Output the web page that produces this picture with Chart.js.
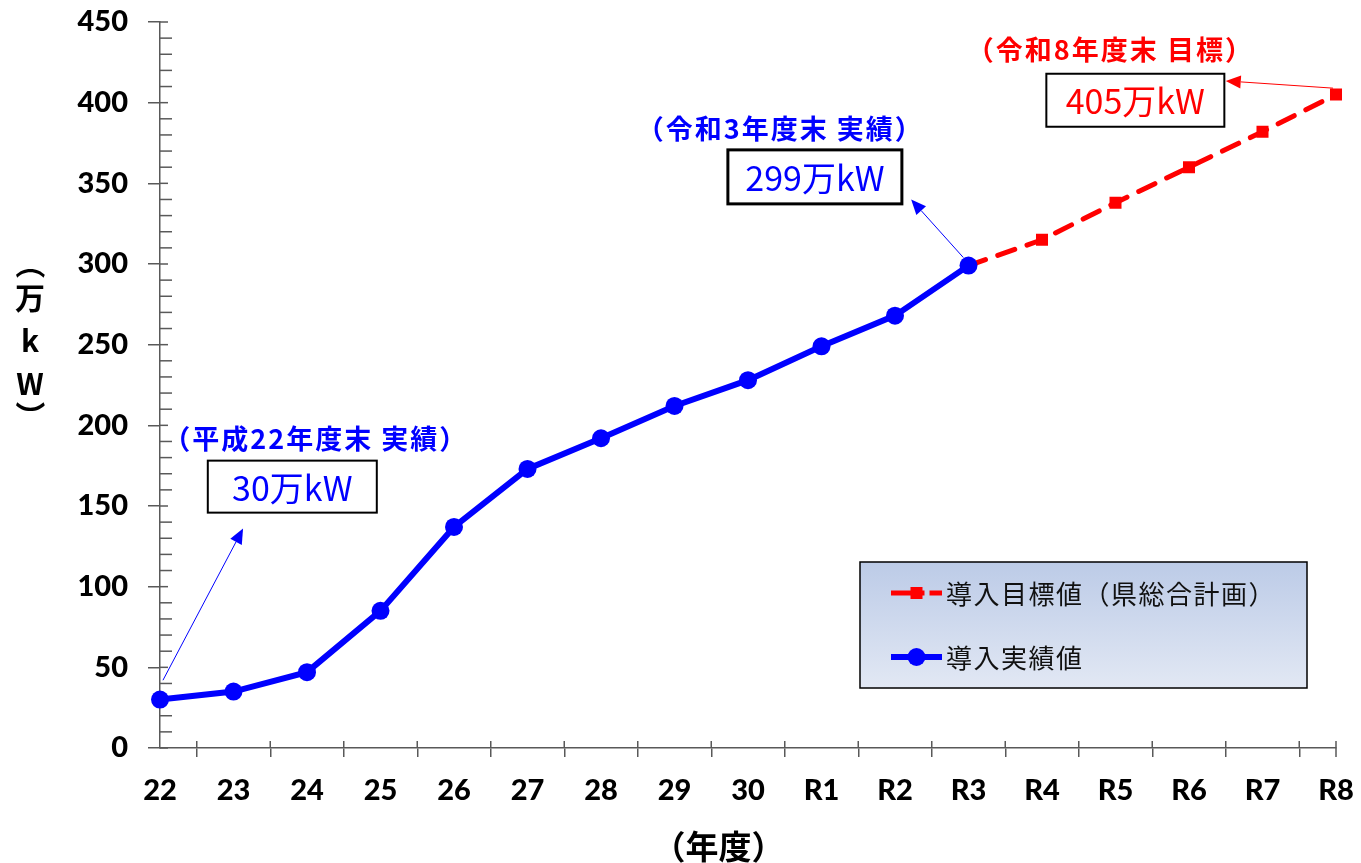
<!DOCTYPE html>
<html lang="ja">
<head>
<meta charset="utf-8">
<script src="https://cdn.jsdelivr.net/npm/chart.js@4.4.1/dist/chart.umd.min.js"></script>
<style>
  html, body { margin: 0; padding: 0; background: #fff; }
  #wrap { width: 1361px; height: 863px; }
</style>
</head>
<body>
<div id="wrap"><canvas id="solarChart" width="1361" height="863"></canvas></div>
<script>
// data
const years = ["22", "23", "24", "25", "26", "27", "28", "29", "30", "R1", "R2", "R3", "R4", "R5", "R6", "R7", "R8"];
const actualValues = [30, 35, 47, 85, 137, 173, 192, 212, 228, 249, 268, 299, null, null, null, null, null];
const targetValues = [null, null, null, null, null, null, null, null, null, null, null, 299, 315, 338, 360, 382, 405];
const yTicks = [0, 50, 100, 150, 200, 250, 300, 350, 400, 450];
const seriesNames = ["導入目標値（県総合計画）", "導入実績値"];
const yTitleChars = ["（", "万", "k", "W", "）"];
const xTitle = "（年度）";

const BLUE = "#0000FF";
const RED = "#FF0000";
const AXIS = "#595959";
const JP = "'Noto Sans CJK JP', 'Noto Sans', sans-serif";
const NUM = "Lato, 'Noto Sans', sans-serif";

// callouts: positions in (category index, value) so they go through the scales
const callouts = [
  { title: "（平成22年度末 実績）", text: "30万kW", color: BLUE, border: 2,
    titleAt: [2.12, 192], boxAt: [1.8, 162], boxW: 169, boxH: 52,
    arrowFrom: [0.04, 42], arrowTo: [1.13, 136] },
  { title: "（令和3年度末 実績）", text: "299万kW", color: BLUE, border: 3,
    titleAt: [8.44, 384], boxAt: [8.91, 354], boxW: 174, boxH: 54,
    arrowFrom: [10.93, 304], arrowTo: [10.22, 340] },
  { title: "（令和8年度末 目標）", text: "405万kW", color: RED, border: 2,
    titleAt: [12.93, 432.5], boxAt: [13.27, 401.5], boxW: 178, boxH: 53,
    arrowFrom: [15.96, 409], arrowTo: [14.5, 413.5] }
];

function arrow(ctx, x1, y1, x2, y2, color) {
  const ang = Math.atan2(y2 - y1, x2 - x1);
  const len = 15, half = 6.5;
  const bx = x2 - len * Math.cos(ang), by = y2 - len * Math.sin(ang);
  ctx.strokeStyle = color;
  ctx.lineWidth = 1;
  ctx.beginPath(); ctx.moveTo(x1, y1); ctx.lineTo(bx, by); ctx.stroke();
  ctx.fillStyle = color;
  ctx.beginPath();
  ctx.moveTo(x2, y2);
  ctx.lineTo(bx + half * Math.sin(ang), by - half * Math.cos(ang));
  ctx.lineTo(bx - half * Math.sin(ang), by + half * Math.cos(ang));
  ctx.closePath(); ctx.fill();
}

const extras = {
  id: "extras",
  beforeDatasetsDraw(chart) {
    const { ctx, scales: { x, y }, chartArea: a } = chart;
    ctx.save();
    ctx.strokeStyle = AXIS;
    ctx.lineWidth = 1.5;
    // minor ticks inside, major ticks crossing the axis
    for (let v = 0; v <= yTicks[yTicks.length - 1]; v += 10) {
      const py = y.getPixelForValue(v);
      const len = v % 50 === 0 ? 8 : 12;
      ctx.beginPath(); ctx.moveTo(a.left, py); ctx.lineTo(a.left + len, py); ctx.stroke();
    }
    // x ticks also poke above the axis
    for (let i = 1; i < years.length; i++) {
      const px = (x.getPixelForValue(i - 1) + x.getPixelForValue(i)) / 2;
      ctx.beginPath(); ctx.moveTo(px, a.bottom - 7); ctx.lineTo(px, a.bottom); ctx.stroke();
    }
    const pe = x.getPixelForValue(years.length - 1);
    ctx.beginPath(); ctx.moveTo(pe, a.bottom - 7); ctx.lineTo(pe, a.bottom + 9); ctx.stroke();
    ctx.restore();
  },
  afterDraw(chart) {
    const { ctx, scales: { x, y }, chartArea: a } = chart;
    const P = (p) => [x.getPixelForValue(p[0]), y.getPixelForValue(p[1])];
    ctx.save();

    // callouts
    callouts.forEach(c => {
      const [fx, fy] = P(c.arrowFrom), [tx, ty] = P(c.arrowTo);
      arrow(ctx, fx, fy, tx, ty, c.color);
      const [bx, by] = P(c.boxAt);
      ctx.fillStyle = "#fff";
      ctx.fillRect(bx - c.boxW / 2, by - c.boxH / 2, c.boxW, c.boxH);
      ctx.strokeStyle = "#000";
      ctx.lineWidth = c.border;
      ctx.strokeRect(bx - c.boxW / 2, by - c.boxH / 2, c.boxW, c.boxH);
      ctx.fillStyle = c.color;
      ctx.textAlign = "center";
      ctx.textBaseline = "middle";
      ctx.letterSpacing = "0px";
      ctx.font = "34px " + JP;
      ctx.fillText(c.text, bx, by + 1);
      const [ttx, tty] = P(c.titleAt);
      ctx.font = "bold 27px " + JP;
      ctx.letterSpacing = "2px";
      ctx.fillText(c.title, ttx, tty);
      ctx.letterSpacing = "0px";
    });

    // legend box
    const L = a.right - 29 - 447, T = a.bottom - 60 - 126, W = 447, H = 126;
    const g = ctx.createLinearGradient(0, T, 0, T + H);
    g.addColorStop(0, "#bccbe7");
    g.addColorStop(1, "#e2e8f4");
    ctx.fillStyle = g;
    ctx.fillRect(L, T, W, H);
    ctx.strokeStyle = "#000";
    ctx.lineWidth = 1.5;
    ctx.strokeRect(L, T, W, H);
    const rows = [
      { y: T + 31, color: RED, dash: true, name: seriesNames[0] },
      { y: T + 95, color: BLUE, dash: false, name: seriesNames[1] }
    ];
    rows.forEach(r => {
      const x0 = L + 31, x1 = L + 82, xm = (x0 + x1) / 2;
      ctx.strokeStyle = r.color;
      ctx.fillStyle = r.color;
      ctx.lineWidth = r.dash ? 5 : 6;
      ctx.beginPath(); ctx.moveTo(x0, r.y); ctx.lineTo(x1, r.y); ctx.stroke();
      if (r.dash) {
        ctx.fillStyle = g;
        ctx.fillRect(xm + 8, r.y - 4, 5, 8);
        ctx.fillStyle = r.color;
        ctx.fillRect(xm - 6, r.y - 6, 12, 12);
      } else {
        ctx.beginPath(); ctx.arc(xm, r.y, 9, 0, Math.PI * 2); ctx.fill();
      }
      ctx.fillStyle = "#111";
      ctx.textAlign = "left";
      ctx.textBaseline = "middle";
      ctx.font = "26px " + JP;
      ctx.letterSpacing = "1.5px";
      ctx.fillText(r.name, x1 + 4, r.y + 1);
      ctx.letterSpacing = "0px";
    });

    // axis titles: vertical stack, brackets turned sideways
    ctx.fillStyle = "#000";
    ctx.textAlign = "center";
    ctx.textBaseline = "middle";
    ctx.font = "bold 30px " + JP;
    const ty0 = y.getPixelForValue(300) - 4;
    yTitleChars.forEach((ch, i) => {
      const gap = [0, 38, 81, 124, 160][i];
      if (i === 0 || i === yTitleChars.length - 1) {
        ctx.save();
        ctx.translate(30, ty0 + gap + (i === 0 ? 4 : -4));
        ctx.rotate(Math.PI / 2);
        ctx.fillText(ch, 0, 0);
        ctx.restore();
      } else {
        ctx.fillText(ch, 30, ty0 + gap);
      }
    });
    ctx.font = "bold 33px " + JP;
    ctx.fillText(xTitle, x.getPixelForValue(7.6), a.bottom + 98);
    ctx.restore();
  }
};

const ctx = document.getElementById("solarChart").getContext("2d");
const solarChart = new Chart(ctx, {
  type: "line",
  data: {
    labels: years,
    datasets: [
      {
        label: seriesNames[0],
        data: targetValues,
        borderColor: RED,
        backgroundColor: RED,
        borderWidth: 5,
        borderDash: [18, 13],
        borderCapStyle: "round",
        pointStyle: "rect",
        pointRadius: 8.5,
        pointBorderWidth: 0,
        pointBackgroundColor: RED,
        fill: false,
        tension: 0,
        order: 2
      },
      {
        label: seriesNames[1],
        data: actualValues,
        borderColor: BLUE,
        backgroundColor: BLUE,
        borderWidth: 6,
        pointStyle: "circle",
        pointRadius: 9,
        pointBorderWidth: 0,
        pointBackgroundColor: BLUE,
        fill: false,
        tension: 0,
        order: 1
      }
    ]
  },
  options: {
    responsive: false,
    animation: false,
    layout: { padding: { top: 22, right: 25, left: 0, bottom: 0 } },
    plugins: {
      legend: { display: false },
      tooltip: { enabled: false }
    },
    scales: {
      x: {
        offset: false,
        ticks: {
          font: { family: NUM, weight: "900", size: 29 },
          color: "#000",
          padding: 16,
          maxRotation: 0,
          autoSkip: false
        },
        grid: { offset: true, drawOnChartArea: false, tickLength: 9, color: AXIS, lineWidth: 1.5 },
        border: { color: AXIS, width: 1.5 },
        afterFit: (s) => { s.height = 115; s.paddingLeft = 0; s.paddingRight = 0; }
      },
      y: {
        min: 0,
        max: 450,
        afterBuildTicks: (s) => { s.ticks = yTicks.map(v => ({ value: v })); },
        ticks: {
          font: { family: NUM, weight: "900", size: 29 },
          color: "#000",
          padding: 20
        },
        grid: { drawOnChartArea: false, tickLength: 12, color: AXIS, lineWidth: 1.5 },
        border: { color: AXIS, width: 1.5 },
        afterFit: (s) => { s.width = 160; s.paddingTop = 0; s.paddingBottom = 0; }
      }
    }
  },
  plugins: [extras]
});
</script>
</body>
</html>
